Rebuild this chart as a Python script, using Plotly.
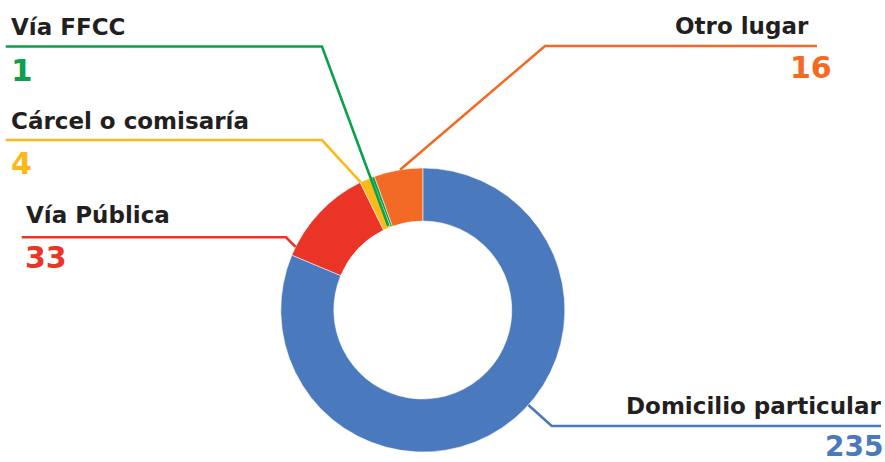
import math
import plotly.graph_objects as go

# ---- data ----
categories = ["Domicilio particular", "Vía Pública", "Cárcel o comisaría", "Vía FFCC", "Otro lugar"]
values = [235, 33, 4, 1, 16]
colors = ["#4a7abd", "#ea3526", "#fbba1a", "#0ba14b", "#f26a23"]

W, H = 885, 462
CX, CY, R, RIN = 422.8, 310.0, 142.0, 89.0
HOLE = RIN / R

def px(x, y):
    return x / W, 1 - y / H

# label layout: (label text pos, value pos, anchor, leader line)
# anchor given as angle (deg clockwise from 12 o'clock) and radius
layout_cfg = {
    "Domicilio particular": dict(side="right", lx=881, ly=406.2, vx=883, vy=446.0, vsize=28,
                                 line_y=426, line_x=881, elbow_x=551.7, ang=132.0, rad=R),
    "Vía Pública": dict(side="left", lx=26, ly=215.0, vx=25, vy=257.8, vsize=30,
                        line_y=237.3, line_x=21.7, elbow_x=286, ang=296.4, rad=R),
    "Cárcel o comisaría": dict(side="left", lx=10.5, ly=121.0, vx=11, vy=163.8, vsize=30,
                               line_y=140, line_x=5.7, elbow_x=322, ang=334.1, rad=R),
    "Vía FFCC": dict(side="left", lx=11, ly=27.2, vx=11, vy=70.0, vsize=31,
                     line_y=46.5, line_x=5.7, elbow_x=322, ang=337.7, rad=RIN + 2),
    "Otro lugar": dict(side="right", lx=809, ly=26.3, vx=832, vy=67.5, vsize=30,
                       line_y=46, line_x=817, elbow_x=545, ang=350.8, rad=R),
}

x0, y1 = px(CX - R, CY - R)
x1, y0 = px(CX + R, CY + R)

fig = go.Figure(go.Pie(
    labels=categories,
    values=values,
    marker=dict(colors=colors, line=dict(color="white", width=0.5)),
    hole=HOLE,
    sort=False,
    direction="clockwise",
    rotation=0,
    textinfo="none",
    hoverinfo="label+value",
    domain=dict(x=[x0, x1], y=[y0, y1]),
    showlegend=False,
))

annotations = []
shapes = []
FONT = "DejaVu Sans"
for cat, val, col in zip(categories, values, colors):
    c = layout_cfg[cat]
    anchor = "left" if c["side"] == "left" else "right"
    ax, ay = px(c["lx"], c["ly"])
    annotations.append(dict(text=cat, x=ax, y=ay, xref="paper", yref="paper",
                            xanchor=anchor, yanchor="middle", showarrow=False,
                            borderpad=0, borderwidth=0,
                            font=dict(family=FONT, size=23, color="#231f20", weight="bold")))
    bx, by = px(c["vx"], c["vy"])
    annotations.append(dict(text=str(val), x=bx, y=by, xref="paper", yref="paper",
                            xanchor=anchor, yanchor="middle", showarrow=False,
                            borderpad=0, borderwidth=0,
                            font=dict(family=FONT, size=c["vsize"], color=col, weight="bold")))
    th = math.radians(c["ang"])
    ex = CX + c["rad"] * math.sin(th)
    ey = CY - c["rad"] * math.cos(th)
    p1 = px(c["line_x"], c["line_y"])
    p2 = px(c["elbow_x"], c["line_y"])
    p3 = px(ex, ey)
    shapes.append(dict(type="path", xref="paper", yref="paper", layer="above",
                       path=f"M {p1[0]} {p1[1]} L {p2[0]} {p2[1]} L {p3[0]} {p3[1]}",
                       line=dict(color=col, width=2.6)))

fig.update_layout(
    width=W, height=H,
    margin=dict(l=0, r=0, t=0, b=0),
    paper_bgcolor="white", plot_bgcolor="white",
    annotations=annotations, shapes=shapes,
)
fig.write_html("out.html", config={"displayModeBar": False},
               post_script="document.body.style.margin='0';document.body.style.overflow='hidden';")
